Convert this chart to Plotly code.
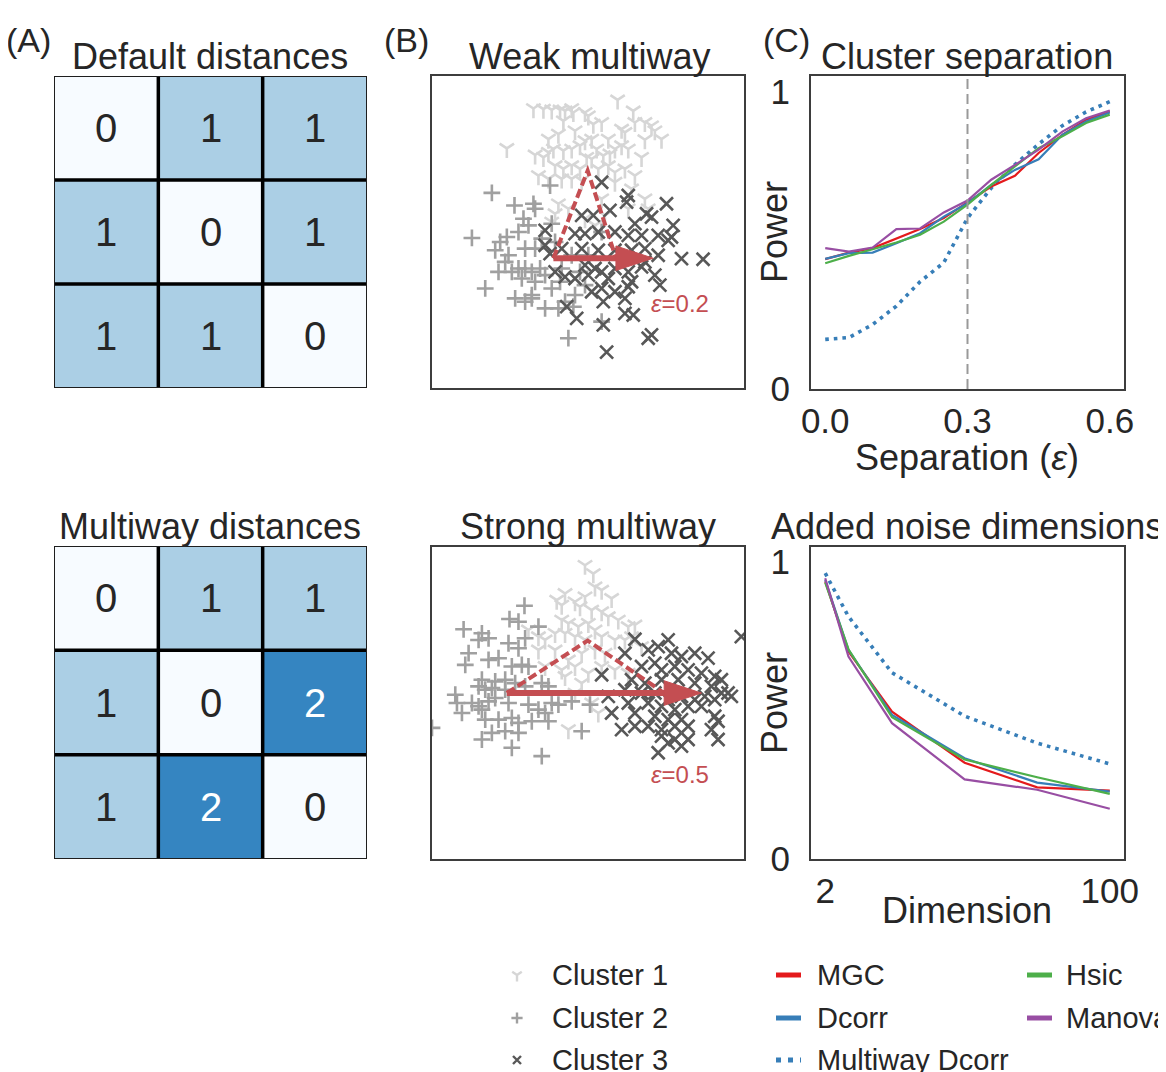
import plotly.graph_objects as go

# The page body adds an 8px margin, so every reference pixel position is shifted by 8
# and the figure is sized so that its paper reaches the right/bottom edges of the window.
REF_W, REF_H = 1166, 1072
OFF = 8
W, H = REF_W - OFF, REF_H - OFF
TEXT = '#262626'
FONT = 'Liberation Sans, Arial, Helvetica, sans-serif'
RED = '#c44e52'

# ---------------- data ----------------
# (A) distance matrices
default_dist = [[0, 1, 1], [1, 0, 1], [1, 1, 0]]
multiway_dist = [[0, 1, 1], [1, 0, 2], [1, 2, 0]]
heat_colors = ['#f7fbff', '#abcfe5', '#3585c1']

# (B) scatter points, arbitrary units (y grows downward)
weak_c1_x = [315,345,370,395,410,430,435,470,480,568,615,405,440,495,520,540,580,590,620,650,
             670,680,700,650,235,360,390,320,345,360,375,405,430,455,470,490,505,525,545,560,
             580,600,640,380,405,430,455,475,490,510,540,560,590,620,330,360,400,430,460,560,
             610,650,380,420,470,500,530,370,390,600,660,520]
weak_c1_y = [118,120,122,122,125,118,130,130,140,92,125,155,185,165,160,210,180,190,160,160,
             170,185,210,212,238,210,195,258,265,250,240,245,240,230,215,210,240,260,255,240,
             230,240,265,290,300,290,300,265,270,300,290,310,300,320,320,330,330,330,335,340,
             360,390,435,420,450,470,440,460,405,420,420,390]
weak_c2_x = [190,365,258,315,320,285,270,300,130,215,235,200,240,340,370,380,320,210,250,270,
             290,310,335,280,320,350,170,260,290,310,350,390,410,435,440,470,520,455,400,420,
             520,310,230,370,395,290,430,480]
weak_c2_y = [372,350,410,405,420,450,490,470,508,520,505,545,560,510,465,520,540,610,610,600,
             600,610,600,630,640,620,660,690,700,690,720,720,700,715,680,650,490,610,600,810,
             760,680,580,660,640,540,560,560]
weak_c3_x = [520,600,595,715,460,495,545,655,670,620,735,350,440,470,510,560,600,640,690,730,
             720,350,365,400,460,510,560,610,650,690,760,825,380,410,440,480,500,520,540,560,
             600,640,680,695,600,520,490,560,590,525,415,445,590,615,525,660,670,535,470,610,650]
weak_c3_y = [340,380,400,405,440,440,425,435,445,465,470,485,495,495,490,490,500,500,500,505,
             515,530,555,540,540,545,545,545,540,560,570,572,610,625,630,620,600,610,630,600,
             610,595,620,650,655,660,670,670,690,700,715,750,735,740,770,810,800,852,590,640,580]

strong_c1_x = [470,495,500,520,550,410,385,400,440,470,455,490,520,540,570,600,620,400,420,450,
               480,500,300,330,350,380,410,440,470,520,560,590,610,640,330,380,420,460,500,530,
               350,400,440,480,520,560,600,460,410,420,490,510,440]
strong_c1_y = [75,100,140,150,175,160,180,195,185,170,200,210,215,230,240,260,255,240,250,260,
               250,270,270,290,300,280,280,290,300,290,300,300,290,320,330,330,360,340,330,340,
               380,390,380,400,380,390,400,430,410,570,490,520,460]
strong_c2_x = [288,243,270,105,160,180,150,290,330,240,270,120,110,180,210,250,280,300,160,200,
               230,150,170,190,230,260,290,340,360,80,85,100,130,150,160,180,200,240,300,330,
               350,370,390,430,485,170,210,250,270,310,360,190,230,270,160,250,340,460,10]
strong_c2_y = [197,237,245,268,280,295,300,295,260,310,325,340,375,360,355,380,375,380,420,425,
               420,440,450,445,450,430,440,430,440,465,490,520,490,500,510,485,475,490,495,510,
               520,490,495,485,495,540,540,535,550,545,545,580,575,580,600,625,650,575,565]
strong_c3_x = [620,720,590,660,690,730,760,800,840,940,520,640,680,700,740,780,820,860,880,610,
               650,700,750,800,850,900,590,640,680,720,760,800,830,860,880,910,540,600,660,700,
               740,780,820,550,620,680,720,760,860,870,580,620,660,700,740,780,850,700,740,760,
               780,870,690,720]
strong_c3_y = [298,300,340,330,320,340,350,340,355,290,405,380,370,390,380,390,400,410,420,420,
               430,420,420,430,440,460,450,460,460,480,470,480,470,480,460,470,470,490,490,500,
               510,500,500,520,520,530,540,540,530,545,570,560,560,570,560,560,570,590,600,620,
               600,600,640,610]

# cluster centres used for the annotation arrows: [tail(x,y), apex(x,y), tip(x,y)]
weak_centres = [(375, 569), (478, 305), (675, 569)]
strong_centres = [(235, 460), (478, 302), (820, 460)]
weak_label = 'ε=0.2'
strong_label = 'ε=0.5'

# (C) power curves
separation = [0.0, 0.05, 0.1, 0.15, 0.2, 0.25, 0.3, 0.35, 0.4, 0.45, 0.5, 0.55, 0.6]
sep_mgc = [0.437,0.459,0.474,0.507,0.538,0.575,0.627,0.681,0.717,0.794,0.855,0.906,0.934]
sep_dcorr = [0.438,0.457,0.459,0.490,0.524,0.580,0.625,0.687,0.737,0.773,0.855,0.900,0.930]
sep_hsic = [0.423,0.448,0.470,0.493,0.519,0.563,0.620,0.687,0.749,0.810,0.850,0.895,0.923]
sep_manova = [0.474,0.462,0.476,0.538,0.540,0.594,0.634,0.704,0.754,0.805,0.866,0.911,0.937]
sep_multiway = [0.167,0.173,0.217,0.279,0.361,0.425,0.575,0.676,0.755,0.824,0.886,0.932,0.967]

dimension = [2, 10, 25, 50, 75, 100]
dim_mgc = [0.934,0.698,0.496,0.324,0.241,0.230]
dim_dcorr = [0.939,0.704,0.485,0.339,0.257,0.227]
dim_hsic = [0.930,0.706,0.477,0.335,0.275,0.219]
dim_manova = [0.945,0.681,0.457,0.268,0.233,0.169]
dim_multiway = [0.962,0.816,0.627,0.481,0.390,0.320]

methods = ['MGC', 'Dcorr', 'Hsic', 'Manova', 'Multiway Dcorr']
method_colors = {'MGC': '#e41a1c', 'Dcorr': '#377eb8', 'Hsic': '#4daf4a',
                 'Manova': '#984ea3', 'Multiway Dcorr': '#377eb8'}
clusters = ['Cluster 1', 'Cluster 2', 'Cluster 3']
cluster_symbols = ['y-down-open', 'cross-thin-open', 'x-thin-open']
cluster_colors = ['#d6d6d6', '#a0a0a0', '#585858']
cluster_sizes = [12, 12, 13]

sep_ticks = [0.0, 0.3, 0.6]
sep_ticktext = ['0.0', '0.3', '0.6']
dim_ticks = [2, 100]
power_ticks = [0, 1]

# ---------------- layout helpers (arguments in reference pixels) ----------------
def ppx(x):
    return (x - OFF) / W

def ppy(y):
    return 1 - (y - OFF) / H

def dx(a, b):
    return [ppx(a), ppx(b)]

def dy(top, bottom):
    return [ppy(bottom), ppy(top)]

fig = go.Figure()
annotations = []
shapes = []

# ---------------- (A) heatmaps ----------------
for mat, xa, ya in [(default_dist, 'x', 'y'), (multiway_dist, 'x2', 'y2')]:
    fig.add_trace(go.Heatmap(
        z=mat, x=[0, 1, 2], y=[0, 1, 2], xaxis=xa, yaxis=ya,
        zmin=0, zmax=2, showscale=False, hoverinfo='skip',
        colorscale=[[0, heat_colors[0]], [0.5, heat_colors[1]], [1, heat_colors[2]]]))
    for r, row in enumerate(mat):
        for c, v in enumerate(row):
            annotations.append(dict(
                x=c, y=r, xref=xa, yref=ya, text=str(v), showarrow=False,
                font=dict(size=40, color='white' if v == 2 else TEXT, family=FONT)))
    for v in [0.5, 1.5]:
        shapes.append(dict(type='line', xref=xa, yref=ya, x0=v, x1=v, y0=-0.5, y1=2.5,
                           line=dict(color='black', width=3.5)))
        shapes.append(dict(type='line', xref=xa, yref=ya, y0=v, y1=v, x0=-0.5, x1=2.5,
                           line=dict(color='black', width=3.5)))
    shapes.append(dict(type='rect', xref=xa, yref=ya, x0=-0.5, x1=2.5, y0=-0.5, y1=2.5,
                       line=dict(color='#1e1e1e', width=2)))

# ---------------- (B) scatter ----------------
scatter_sets = [
    ('x3', 'y3', [(weak_c1_x, weak_c1_y), (weak_c2_x, weak_c2_y), (weak_c3_x, weak_c3_y)],
     weak_centres, weak_label),
    ('x4', 'y4', [(strong_c1_x, strong_c1_y), (strong_c2_x, strong_c2_y), (strong_c3_x, strong_c3_y)],
     strong_centres, strong_label),
]
HEAD_LEN = 112
HEAD_HALF = 37
for xa, ya, pts, centres, label_txt in scatter_sets:
    for i, (xs, ys) in enumerate(pts):
        fig.add_trace(go.Scatter(
            x=xs, y=ys, xaxis=xa, yaxis=ya, mode='markers', showlegend=False,
            hoverinfo='skip', name=clusters[i],
            marker=dict(symbol=cluster_symbols[i], size=cluster_sizes[i],
                        color=cluster_colors[i],
                        line=dict(color=cluster_colors[i], width=2.6))))
    (tx, ty), (ax_, ay_), (hx, hy) = centres
    base_x = hx - HEAD_LEN
    shapes.append(dict(type='path', xref=xa, yref=ya,
                       path=f'M{tx},{ty} L{ax_},{ay_} L{base_x},{hy}',
                       line=dict(color=RED, width=4, dash='9px,4px')))
    shapes.append(dict(type='line', xref=xa, yref=ya, x0=tx, y0=ty, x1=base_x + 5, y1=hy,
                       line=dict(color=RED, width=6)))
    shapes.append(dict(type='path', xref=xa, yref=ya,
                       path=f'M{base_x},{hy - HEAD_HALF} L{hx},{hy} L{base_x},{hy + HEAD_HALF} Z',
                       fillcolor=RED, line=dict(color=RED, width=1)))
    annotations.append(dict(x=755, y=705, xref=xa, yref=ya, showarrow=False,
                            text='<i>ε</i>' + label_txt[1:],
                            font=dict(size=24, color=RED, family=FONT)))

# ---------------- (C) power curves ----------------
sep_series = {'MGC': sep_mgc, 'Dcorr': sep_dcorr, 'Hsic': sep_hsic,
              'Manova': sep_manova, 'Multiway Dcorr': sep_multiway}
dim_series = {'MGC': dim_mgc, 'Dcorr': dim_dcorr, 'Hsic': dim_hsic,
              'Manova': dim_manova, 'Multiway Dcorr': dim_multiway}
draw_order = ['Multiway Dcorr', 'MGC', 'Dcorr', 'Hsic', 'Manova']
for xa, ya, xs, series in [('x5', 'y5', separation, sep_series), ('x6', 'y6', dimension, dim_series)]:
    for m in draw_order:
        dotted = m == 'Multiway Dcorr'
        fig.add_trace(go.Scatter(
            x=xs, y=series[m], xaxis=xa, yaxis=ya, mode='lines', name=m,
            showlegend=False, hoverinfo='skip',
            line=dict(color=method_colors[m], width=3.6 if dotted else 2.2,
                      dash='3.6px,5px' if dotted else 'solid')))

shapes.append(dict(type='line', xref='x5', yref='y5 domain', x0=0.3, x1=0.3, y0=0, y1=1,
                   line=dict(color='#999999', width=2, dash='10px,5px')))

# ---------------- legend (manual) ----------------
legend_rows = [975, 1018, 1060]
for i, name in enumerate(clusters):
    fig.add_trace(go.Scatter(
        x=[517], y=[legend_rows[i]], xaxis='x7', yaxis='y7', mode='markers',
        showlegend=False, hoverinfo='skip',
        marker=dict(symbol=cluster_symbols[i], size=8, color=cluster_colors[i],
                    line=dict(color=cluster_colors[i], width=2.4))))
    annotations.append(dict(x=ppx(550), y=ppy(legend_rows[i]), xref='paper', yref='paper',
                            xanchor='left', yanchor='middle', text=name, showarrow=False,
                            font=dict(size=29, color=TEXT, family=FONT)))
legend_cols = [(['MGC', 'Dcorr', 'Multiway Dcorr'], 776, 815),
               (['Hsic', 'Manova'], 1027, 1064)]
for names, lx, tx in legend_cols:
    for i, m in enumerate(names):
        dotted = m == 'Multiway Dcorr'
        shapes.append(dict(type='line', xref='paper', yref='paper',
                           x0=ppx(lx), x1=ppx(lx + 25), y0=ppy(legend_rows[i]), y1=ppy(legend_rows[i]),
                           line=dict(color=method_colors[m], width=5,
                                     dash='5px,7px' if dotted else 'solid')))
        annotations.append(dict(x=ppx(tx), y=ppy(legend_rows[i]), xref='paper', yref='paper',
                                xanchor='left', yanchor='middle', text=m, showarrow=False,
                                font=dict(size=29, color=TEXT, family=FONT)))

# ---------------- titles & labels ----------------
def label(text, x, y, size=36, angle=0, anchor='center'):
    annotations.append(dict(x=ppx(x), y=ppy(y), xref='paper', yref='paper', text=text,
                            showarrow=False, xanchor=anchor, yanchor='middle', textangle=angle,
                            font=dict(size=size, color=TEXT, family=FONT)))

label('(A)', 28, 40, 34)
label('(B)', 406, 40, 34)
label('(C)', 786, 40, 34)
label('Default distances', 210, 56)
label('Weak multiway', 589, 56)
label('Cluster separation', 967, 56)
label('Multiway distances', 210, 526)
label('Strong multiway', 588, 526)
label('Added noise dimensions', 967, 526)
label('Power', 774, 232, angle=-90)
label('Power', 774, 703, angle=-90)
label('Separation (<i>ε</i>)', 967, 457)
label('Dimension', 967, 910)

# ---------------- axes ----------------
hidden = dict(showticklabels=False, showgrid=False, zeroline=False, ticks='', showline=False,
              automargin=False)
boxed = dict(showticklabels=False, showgrid=False, zeroline=False, ticks='',
             showline=True, mirror=True, linecolor='#3d3d3d', linewidth=2, automargin=False)
tickfont = dict(size=35, color=TEXT, family=FONT)
power_axis = dict(showgrid=False, zeroline=False, ticks='', showline=True, mirror=True,
                  linecolor='#3d3d3d', linewidth=2, tickfont=tickfont, automargin=False)

layout_axes = dict(
    xaxis=dict(domain=dx(54, 367), range=[-0.5, 2.5], anchor='y', **hidden),
    yaxis=dict(domain=dy(76, 388), range=[2.5, -0.5], anchor='x', **hidden),
    xaxis2=dict(domain=dx(54, 367), range=[-0.5, 2.5], anchor='y2', **hidden),
    yaxis2=dict(domain=dy(546, 859), range=[2.5, -0.5], anchor='x2', **hidden),
    xaxis3=dict(domain=dx(432, 744), range=[10, 948], anchor='y3', **boxed),
    yaxis3=dict(domain=dy(76, 388), range=[960, 20], anchor='x3', **boxed),
    xaxis4=dict(domain=dx(432, 744), range=[10, 948], anchor='y4', **boxed),
    yaxis4=dict(domain=dy(547, 859), range=[960, 20], anchor='x4', **boxed),
    xaxis5=dict(domain=dx(811, 1124), range=[-0.03, 0.63], anchor='y5',
                tickvals=sep_ticks, ticktext=sep_ticktext, ticklabelstandoff=0, **power_axis),
    yaxis5=dict(domain=dy(76, 389), range=[0, 1.053], anchor='x5',
                tickvals=power_ticks, ticklabelstandoff=12, **power_axis),
    xaxis6=dict(domain=dx(811, 1124), range=[-2.9, 104.9], anchor='y6',
                tickvals=dim_ticks, ticklabelstandoff=0, **power_axis),
    yaxis6=dict(domain=dy(547, 859), range=[0, 1.05], anchor='x6',
                tickvals=power_ticks, ticklabelstandoff=12, **power_axis),
    xaxis7=dict(domain=[0, 1], range=[OFF, OFF + W], anchor='y7', visible=False,
                fixedrange=True, automargin=False),
    yaxis7=dict(domain=[0, 1], range=[OFF + H, OFF], anchor='x7', visible=False,
                fixedrange=True, automargin=False),
)

fig.update_layout(
    width=W, height=H, margin=dict(l=0, r=0, t=0, b=0, pad=0, autoexpand=False),
    paper_bgcolor='white', plot_bgcolor='rgba(0,0,0,0)',
    font=dict(family=FONT, color=TEXT),
    showlegend=False, annotations=annotations, shapes=shapes,
    **layout_axes)

fig.write_html('out.html')
